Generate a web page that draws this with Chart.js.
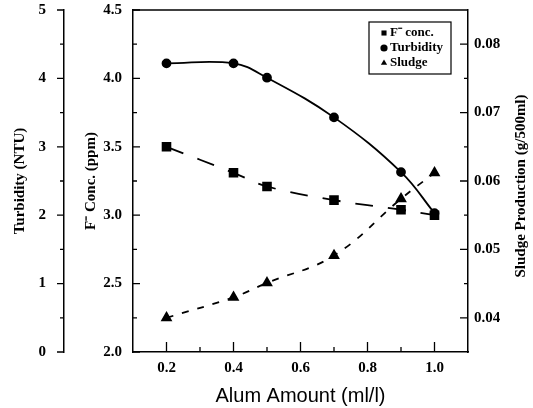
<!DOCTYPE html>
<html>
<head>
<meta charset="utf-8">
<script src="https://cdn.jsdelivr.net/npm/chart.js@4/dist/chart.umd.min.js"></script>
<style>
  html, body { margin: 0; padding: 0; background: #fff; }
  canvas { display: block; }
</style>
</head>
<body>
<canvas id="chart" width="533" height="408"></canvas>
<script>
// values
const alum = [0.2, 0.4, 0.5, 0.7, 0.9, 1.0];
const fConc = [3.5, 3.31, 3.21, 3.11, 3.04, 3.0];
const turbidity = [4.22, 4.22, 4.01, 3.43, 2.63, 2.03];
const sludge = [0.040, 0.043, 0.0451, 0.0491, 0.0574, 0.0612];

// tick labels
const xTicks = [0.2, 0.4, 0.6, 0.8, 1.0];
const fTicks = [2.0, 2.5, 3.0, 3.5, 4.0, 4.5];
const turbTicks = [0, 1, 2, 3, 4, 5];
const sludgeTicks = [0.04, 0.05, 0.06, 0.07, 0.08];

const serif = "'Liberation Serif', 'Times New Roman', serif";
const sans = "'Liberation Sans', Arial, sans-serif";
const tickFont = { family: serif, size: 15, weight: 'bold' };
const titleFont = { family: serif, size: 15, weight: 'bold' };

function pts(ys) {
    return alum.map((x, i) => ({ x: x, y: ys[i] }));
}

function setTicks(list) {
    return function(scale) {
        scale.ticks = list.map(v => ({ value: v }));
    };
}

// fixed box sizes so the plot frame lands where the original has it
function fitWidth(w) {
    return function(sc) {
        sc.width = w;
        sc.paddingTop = 0;
        sc.paddingBottom = 0;
    };
}

// minor/major tick marks, drawn on the scales' own pixels
function drawTicks(ctx, scale, majors, bigLen, smallLen, dir) {
    const minors = [];
    for (let i = 0; i < majors.length - 1; i++) {
        minors.push((majors[i] + majors[i + 1]) / 2);
    }
    const horizontal = scale.isHorizontal();
    const base = horizontal ? scale.top : (scale.position === 'left' ? scale.right : scale.left);
    ctx.beginPath();
    [[majors, bigLen], [minors, smallLen]].forEach(([vals, len]) => {
        vals.forEach(v => {
            const p = scale.getPixelForValue(v);
            if (horizontal) {
                ctx.moveTo(p, base);
                ctx.lineTo(p, base + dir * len);
            } else {
                ctx.moveTo(base, p);
                ctx.lineTo(base + dir * len, p);
            }
        });
    });
    ctx.stroke();
}

const extras = {
    id: 'extras',
    afterDraw(chart) {
        const ctx = chart.ctx;
        const a = chart.chartArea;
        const s = chart.scales;
        ctx.save();
        ctx.strokeStyle = '#000';
        ctx.fillStyle = '#000';
        ctx.lineWidth = 1.5;

        // top of the frame
        ctx.beginPath();
        ctx.moveTo(a.left, a.top);
        ctx.lineTo(a.right, a.top);
        ctx.stroke();

        ctx.lineWidth = 1.3;
        drawTicks(ctx, s.x, xTicks, 10, 5, -1);
        drawTicks(ctx, s.yF, fTicks, 7, 4, 1);
        drawTicks(ctx, s.yT, turbTicks, 7, 4, -1);
        drawTicks(ctx, s.yS, sludgeTicks, 8, 4, -1);

        // right axis title reads bottom to top
        ctx.save();
        ctx.translate(s.yS.right - 12, (a.top + a.bottom) / 2 + 5);
        ctx.rotate(-Math.PI / 2);
        ctx.font = 'bold 15px ' + serif;
        ctx.textAlign = 'center';
        ctx.textBaseline = 'middle';
        ctx.fillText('Sludge Production (g/500ml)', 0, 0);
        ctx.restore();

        // legend box
        const lx = a.right - 99, ly = a.top + 12;
        ctx.lineWidth = 1.2;
        ctx.strokeRect(lx, ly, 82, 52);
        ctx.font = 'bold 13px ' + serif;
        ctx.textAlign = 'left';
        ctx.textBaseline = 'middle';
        chart.data.datasets.forEach((ds, i) => {
            const y = ly + 11 + i * 15;
            Chart.helpers.drawPoint(ctx, { pointStyle: ds.pointStyle, radius: 3.6, borderWidth: 0, rotation: 0 }, lx + 15, y);
            ctx.fillStyle = '#000';
            ctx.fillText(ds.label, lx + 21, y);
        });
        ctx.restore();
    }
};

new Chart(document.getElementById('chart'), {
    type: 'line',
    data: {
        datasets: [
            {
                label: 'F\u207B conc.',
                data: pts(fConc),
                yAxisID: 'yF',
                borderColor: '#000',
                backgroundColor: '#000',
                borderWidth: 1.8,
                borderDash: [18, 15],
                pointStyle: 'rect',
                pointRadius: 5.5,
                tension: 0.4
            },
            {
                label: 'Turbidity',
                data: pts(turbidity),
                yAxisID: 'yT',
                borderColor: '#000',
                backgroundColor: '#000',
                borderWidth: 1.8,
                pointStyle: 'circle',
                pointRadius: 4,
                tension: 0.4
            },
            {
                label: 'Sludge',
                data: pts(sludge),
                yAxisID: 'yS',
                borderColor: '#000',
                backgroundColor: '#000',
                borderWidth: 1.8,
                borderDash: [7, 9],
                pointStyle: 'triangle',
                pointRadius: 5,
                tension: 0.4
            }
        ]
    },
    options: {
        responsive: false,
        animation: false,
        layout: { padding: { top: 10, left: 0, right: 0, bottom: 0 } },
        plugins: {
            legend: { display: false },
            tooltip: { enabled: false }
        },
        scales: {
            x: {
                type: 'linear',
                min: 0.1,
                max: 1.1,
                grid: { display: false, drawTicks: false },
                border: { color: '#000', width: 1.5 },
                afterBuildTicks: setTicks(xTicks),
                afterFit: sc => { sc.height = 56; sc.paddingLeft = 0; sc.paddingRight = 0; },
                ticks: { padding: 7, color: '#000', font: tickFont, callback: v => v.toFixed(1) },
                title: {
                    display: true,
                    text: 'Alum Amount (ml/l)',
                    color: '#000',
                    font: { family: sans, size: 20 },
                    padding: { top: 0, bottom: 0 }
                }
            },
            yF: {
                type: 'linear',
                position: 'left',
                weight: 0,
                min: 2.0,
                max: 4.5,
                grid: { display: false, drawTicks: false },
                border: { color: '#000', width: 1.5 },
                afterBuildTicks: setTicks(fTicks),
                afterFit: fitWidth(69),
                ticks: { padding: 11, color: '#000', font: tickFont, callback: v => v.toFixed(1) },
                title: {
                    display: true,
                    text: 'F\u207B Conc. (ppm)',
                    color: '#000',
                    font: titleFont,
                    padding: { top: 18, bottom: 0 }
                }
            },
            yT: {
                type: 'linear',
                position: 'left',
                weight: 1,
                min: 0,
                max: 5,
                grid: { display: false, drawTicks: false },
                border: { color: '#000', width: 1.5 },
                afterBuildTicks: setTicks(turbTicks),
                afterFit: fitWidth(64),
                ticks: { padding: 18, color: '#000', font: tickFont, callback: v => String(v) },
                title: {
                    display: true,
                    text: 'Turbidity (NTU)',
                    color: '#000',
                    font: titleFont,
                    padding: { top: 11, bottom: 0 }
                }
            },
            yS: {
                type: 'linear',
                position: 'right',
                min: 0.035,
                max: 0.085,
                grid: { display: false, drawTicks: false },
                border: { color: '#000', width: 1.5 },
                afterBuildTicks: setTicks(sludgeTicks),
                afterFit: fitWidth(65),
                ticks: { padding: 6, color: '#000', font: tickFont, callback: v => v.toFixed(2) }
            }
        }
    },
    plugins: [extras]
});
</script>
</body>
</html>
